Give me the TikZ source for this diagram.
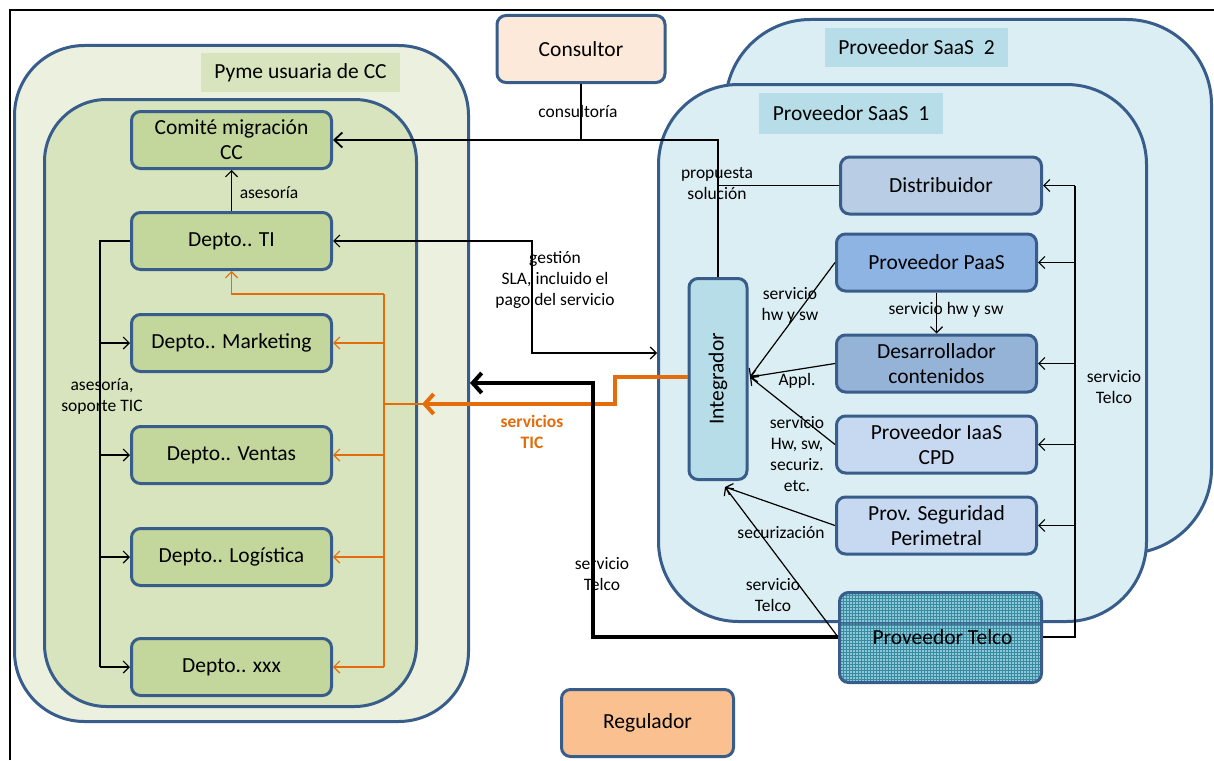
\documentclass[tikz,border=0pt]{standalone}
\usepackage{fontspec}
\setmainfont{Carlito}
\usetikzlibrary{arrows.meta,patterns}

\definecolor{bd}{HTML}{385D8A}
\definecolor{pymeout}{HTML}{EBF1DE}
\definecolor{pymein}{HTML}{D7E4BD}
\definecolor{pymebox}{HTML}{C3D69B}
\definecolor{saas}{HTML}{DBEEF4}
\definecolor{saaslbl}{HTML}{B7DEE8}
\definecolor{distr}{HTML}{B9CDE5}
\definecolor{paas}{HTML}{8EB4E3}
\definecolor{desa}{HTML}{95B3D7}
\definecolor{iaas}{HTML}{C6D9F1}
\definecolor{consul}{HTML}{FDE9D9}
\definecolor{regul}{HTML}{FAC090}
\definecolor{tic}{HTML}{E46C0A}
\definecolor{telbg}{HTML}{8CC8D8}
\definecolor{telgrid}{HTML}{3A8AA0}

\newcommand\boxfs{\fontsize{21.5}{25}\selectfont}
\newcommand\lblfs{\fontsize{17.5}{21}\selectfont}

\begin{document}
\begin{tikzpicture}[x=1pt,y=-1pt,
  container/.style={draw=bd, line width=3pt, inner sep=0pt},
  tag/.style={inner sep=0pt, font=\boxfs},
  box/.style={draw=bd, line width=3pt, rounded corners=9pt, align=center,
    font=\boxfs, inner sep=1pt, minimum width=200pt, minimum height=57pt},
  lbl/.style={align=center, font=\lblfs, inner sep=0pt},
  arr/.style={line width=1.2pt, -{Straight Barb[length=6pt,width=12pt]}},
  link/.style={line width=1.2pt},
  ticthin/.style={draw=tic, line width=1.2pt},
  ticarr/.style={ticthin, -{Straight Barb[length=6pt,width=12pt]}},
  bigarr/.style={line width=4pt, -{Straight Barb[length=9pt,width=20pt]}}]

\useasboundingbox (0,0) rectangle (1214,760);
\fill[white] (0,0) rectangle (1214,760);

% frame
\draw[line width=2.5pt] (10,760) -- (10,10) -- (1214,10);

% ---------- Pyme ----------
\node[container, fill=pymeout, rounded corners=70pt,
      minimum width=454pt, minimum height=676pt] (pyme) at (241.5,383.5) {};
\node[tag, fill=pymein, minimum width=199pt, minimum height=39pt] (pymelbl) at (300.5,72.5) {Pyme usuaria de CC};
\node[container, fill=pymein, rounded corners=62pt,
      minimum width=372pt, minimum height=607pt] (pymein) at (230.5,403) {};

\node[box, fill=pymebox] (comite) at (231.5,140) {Comité migración\\CC};
\node[box, fill=pymebox] (ti)     at (231.5,241) {Depto.. TI};
\node[box, fill=pymebox] (mkt)    at (231.5,343) {Depto.. Marketing};
\node[box, fill=pymebox] (ven)    at (231.5,455) {Depto.. Ventas};
\node[box, fill=pymebox] (log)    at (231.5,557) {Depto.. Logística};
\node[box, fill=pymebox] (xxx)    at (231.5,667) {Depto.. xxx};

% ---------- SaaS providers ----------
\node[container, fill=saas, rounded corners=85pt,
      minimum width=486pt, minimum height=534pt] (saas2) at (968.5,286.5) {};
\node[tag, fill=saaslbl, minimum width=183pt, minimum height=39pt] (saas2lbl) at (916.5,47.5) {Proveedor SaaS\ \ 2};
\node[container, fill=saas, rounded corners=80pt,
      minimum width=488pt, minimum height=537pt] (saas1) at (902.5,353) {};
\node[tag, fill=saaslbl, minimum width=184pt, minimum height=41pt] (saas1lbl) at (851,113.5) {Proveedor SaaS\ \ 1};

\node[box, fill=distr, minimum width=201pt] (dist)  at (941,185.5) {Distribuidor};
\node[box, fill=paas] (paas)  at (936.5,262.5) {Proveedor PaaS};
\node[box, fill=desa] (desa)  at (936.5,363.5) {Desarrollador\\contenidos};
\node[box, fill=iaas] (iaas)  at (936.5,444.5) {Proveedor IaaS\\CPD};
\node[box, fill=iaas] (seg)   at (936.5,525.5) {Prov. Seguridad\\Perimetral};
\node[box, fill=saaslbl, minimum width=58pt, minimum height=201pt] (integ) at (718,379) {};
\node[font=\boxfs, rotate=90] (integtxt) at (integ.center) {Integrador};

\node[box, preaction={fill=telbg}, pattern=grid, pattern color=telgrid,
      minimum width=202pt, minimum height=90pt] (telco) at (940.5,637.5) {};
\draw[bd, line width=3pt, opacity=0.7] (telco.west |- 0,623) -- (telco.east |- 0,623);
\node[font=\boxfs] (telcotxt) at ([xshift=2pt]telco.center) {Proveedor Telco};

% ---------- other actors ----------
\node[box, fill=consul, minimum width=168pt, minimum height=67pt] (consul) at (581,49) {Consultor};
\node[box, fill=regul, minimum width=172pt, minimum height=67pt] (regul) at (647.5,723) {Regulador};

% ---------- connectors inside the Pyme ----------
\draw[arr] (ti.north) -- (comite.south);
\coordinate (busL) at (100,241);
\draw[link, line width=1.6pt] (ti.west) -- (busL) -- (busL |- xxx.west);
\foreach \d in {mkt,ven,log,xxx}
  \draw[arr] (busL |- \d.west) -- (\d.west);

% ---------- servicios TIC (orange) ----------
\coordinate (busT) at (384,294);
\draw[ticarr] (busT) -- (busT -| ti.south) -- (ti.south);
\draw[ticthin] (busT) -- (busT |- xxx.east);
\foreach \d in {mkt,ven,log,xxx}
  \draw[ticarr] (busT |- \d.east) -- (\d.east);
\coordinate (ticA) at (615,377);
\coordinate (ticB) at (615,404);
\draw[ticthin] (busT |- ticB) -- (ticB);
\draw[draw=tic, bigarr] (integ.west |- ticA) -- (ticA) -- (ticB) -- (422,404);

% ---------- servicio Telco to the Pyme (black, thick) ----------
\coordinate (telA) at (593,637);
\coordinate (telB) at (593,383);
\draw[bigarr] (telco.west |- telA) -- (telA) -- (telB) -- (pyme.east |- telB);

% ---------- consultoría / propuesta solución ----------
\coordinate (cj) at (integ.north |- 0,140);
\draw[line width=1.8pt, -{Straight Barb[length=8pt,width=15pt]}] (integ.north) -- (cj) -- (comite.east |- cj);
\draw[link, line width=1.6pt] (consul.south) -- (consul.south |- cj);
\draw[link] (dist.west) -- (cj |- dist.west);

% ---------- gestión SLA ----------
\coordinate (gA) at (532,241);
\coordinate (gB) at (532,353);
\draw[line width=1.2pt, {Straight Barb[length=6pt,width=12pt]}-{Straight Barb[length=6pt,width=12pt]}]
  (ti.east) -- (gA) -- (gB) -- (saas1.west |- gB);

% ---------- services into the integrator ----------
\coordinate (intIn) at (750,377);
\coordinate (intBot) at (725,487);
\draw[arr] (paas.west) -- (intIn);
\draw[arr] (desa.west) -- (intIn);
\draw[arr] (iaas.west) -- (intIn);
\draw[arr] (seg.west) -- (intBot);
\draw[arr] (telco.west |- telA) -- (intBot);
\draw[arr] (paas.south) -- (desa.north);

% ---------- servicio Telco bus on the right ----------
\coordinate (busR) at (1075,637);
\draw[link, line width=1.8pt] (telco.east |- busR) -- (busR) -- (busR |- paas.east);
\draw[link] (busR |- paas.east) -- (busR |- dist.east);
\foreach \d in {dist,paas,desa,iaas,seg}
  \draw[arr] (busR |- \d.east) -- (\d.east);

% ---------- labels ----------
\node[lbl] (tconsult) at (578,111) {consultoría};
\node[lbl] (tprop) at (717,184) {propuesta\\solución};
\node[lbl] (tgest) at (555,280) {gestión\\SLA, incluido el\\pago del servicio};
\node[lbl] (tases) at (269,193) {asesoría};
\node[lbl] (tsop) at (102,396) {asesoría,\\soporte TIC};
\node[lbl, text=tic, font=\lblfs\bfseries] (ttic) at (532,432) {servicios\\TIC};
\node[lbl] (ttel1) at (602,574) {servicio\\Telco};
\node[lbl] (thwsw) at (790,305) {servicio\\hw y sw};
\node[lbl] (tappl) at (797,381) {Appl.};
\node[lbl] (thw2) at (797,454) {servicio\\Hw, sw,\\securiz.\\etc.};
\node[lbl] (tsec) at (781,533) {securización};
\node[lbl] (ttel2) at (773,595) {servicio\\Telco};
\node[lbl] (thwsw2) at (946,310) {servicio hw y sw};
\node[lbl] (ttel3) at (1114,387) {servicio\\Telco};
\end{tikzpicture}
\end{document}
